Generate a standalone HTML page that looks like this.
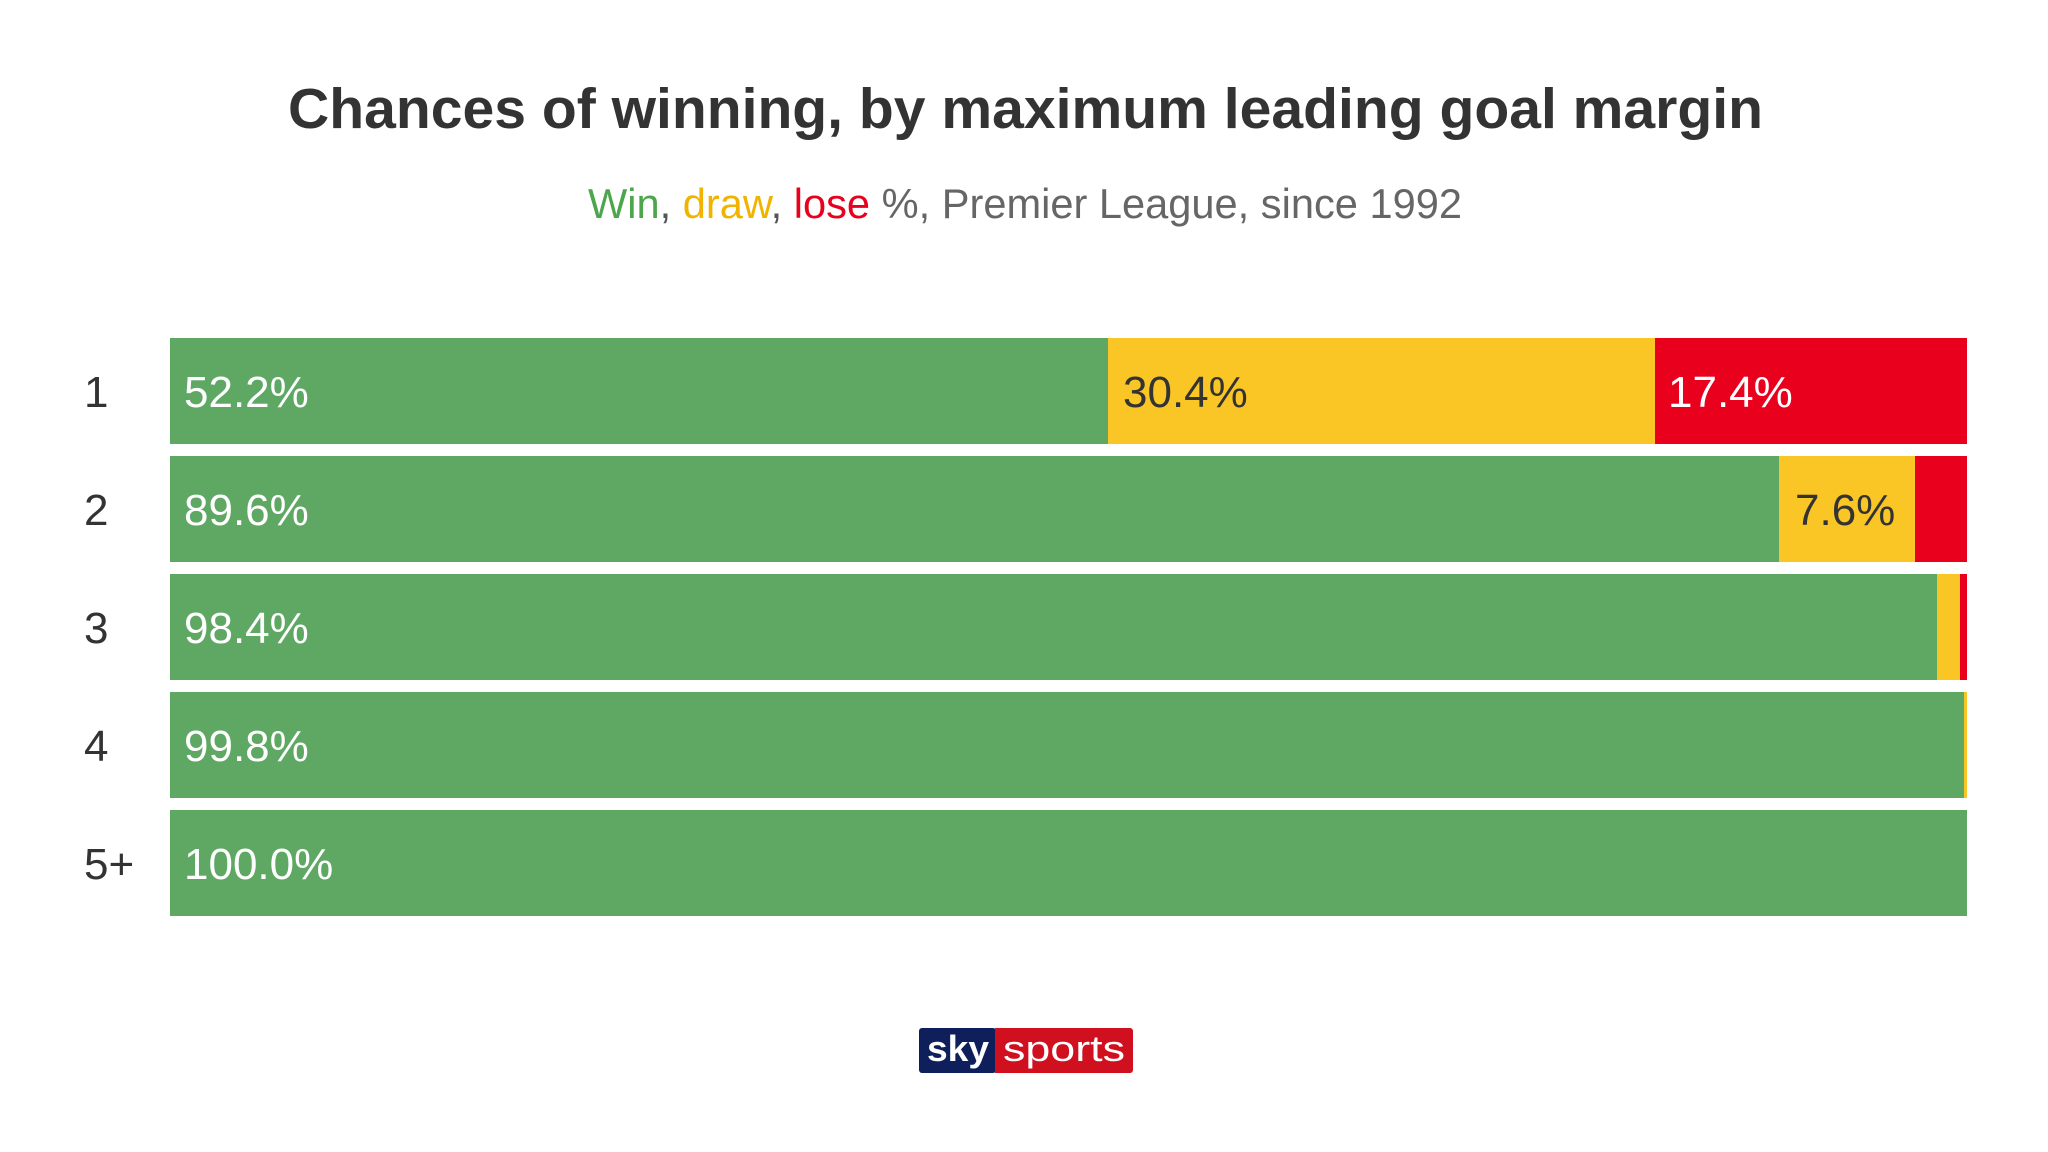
<!DOCTYPE html>
<html><head><meta charset="utf-8"><style>
html,body{margin:0;padding:0;background:#fff;}
svg{display:block;}
text{font-family:"Liberation Sans",sans-serif;}
</style></head><body>
<svg width="2048" height="1152" viewBox="0 0 2048 1152" xmlns="http://www.w3.org/2000/svg">
<rect width="2048" height="1152" fill="#fff"/>
<text x="288" y="128" font-size="57" font-weight="bold" fill="#333" textLength="1475" lengthAdjust="spacingAndGlyphs">Chances of winning, by maximum leading goal margin</text>
<text x="588" y="218" font-size="42" textLength="874" lengthAdjust="spacingAndGlyphs"><tspan fill="#4ca64c">Win</tspan><tspan fill="#555">, </tspan><tspan fill="#f0b400">draw</tspan><tspan fill="#555">, </tspan><tspan fill="#e8001c">lose</tspan><tspan fill="#666"> %, Premier League, since 1992</tspan></text>

<g font-size="44" fill="#333">
<text x="84" y="407">1</text>
<text x="84" y="525">2</text>
<text x="84" y="643">3</text>
<text x="84" y="761">4</text>
<text x="84" y="879">5+</text>
</g>

<rect x="170" y="338" width="938" height="106" fill="#5ea864"/>
<rect x="1108" y="338" width="547" height="106" fill="#fac626"/>
<rect x="1655" y="338" width="312" height="106" fill="#e8001c"/>

<rect x="170" y="456" width="1609" height="106" fill="#5ea864"/>
<rect x="1779" y="456" width="136" height="106" fill="#fac626"/>
<rect x="1915" y="456" width="52" height="106" fill="#e8001c"/>

<rect x="170" y="574" width="1767" height="106" fill="#5ea864"/>
<rect x="1937" y="574" width="23" height="106" fill="#fac626"/>
<rect x="1960" y="574" width="7" height="106" fill="#e8001c"/>

<rect x="170" y="692" width="1794" height="106" fill="#5ea864"/>
<rect x="1964" y="692" width="3" height="106" fill="#fac626"/>

<rect x="170" y="810" width="1797" height="106" fill="#5ea864"/>

<g font-size="44">
<text x="184" y="407" fill="#fff">52.2%</text>
<text x="1123" y="407" fill="#333">30.4%</text>
<text x="1668" y="407" fill="#fff">17.4%</text>
<text x="184" y="525" fill="#fff">89.6%</text>
<text x="1795" y="525" fill="#333">7.6%</text>
<text x="184" y="643" fill="#fff">98.4%</text>
<text x="184" y="761" fill="#fff">99.8%</text>
<text x="184" y="879" fill="#fff">100.0%</text>
</g>

<rect x="919" y="1028" width="77" height="45" rx="3" fill="#0f1f5c"/>
<rect x="995" y="1028" width="138" height="45" rx="3" fill="#d0101e"/>
<rect x="995" y="1028" width="6" height="45" fill="#d0101e"/>
<text x="927" y="1061" font-size="36" font-weight="bold" fill="#fff" textLength="62" lengthAdjust="spacingAndGlyphs">sky</text>
<text x="1003" y="1061" font-size="36" fill="#fff" textLength="122" lengthAdjust="spacingAndGlyphs">sports</text>
</svg>
</body></html>
